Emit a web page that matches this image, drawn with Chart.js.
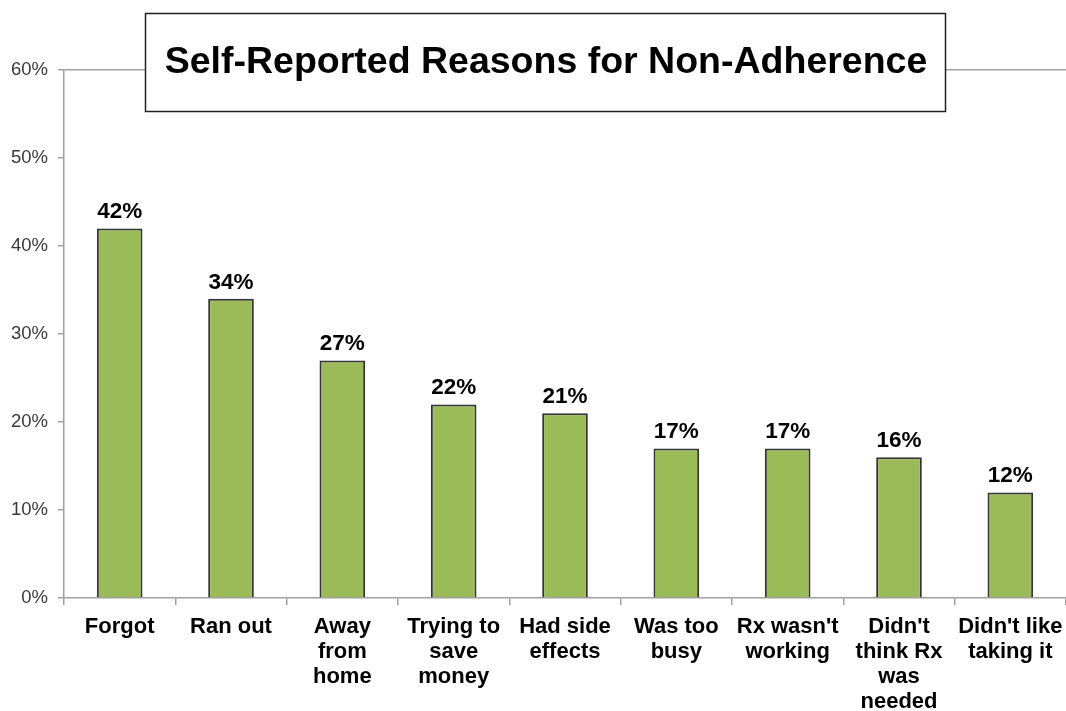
<!DOCTYPE html>
<html lang="en">
<head>
  <meta charset="UTF-8" />
  <script src="https://cdn.jsdelivr.net/npm/chart.js"></script>
  <title>Self-Reported Reasons for Non-Adherence</title>
  <style>
    html, body { margin: 0; padding: 0; background: #fff; }
    .caixa { width: 1066px; height: 711px; position: relative; }
  </style>
</head>
<body>
  <div class="caixa">
    <canvas id="grafico"></canvas>
  </div>

<script>
  const titulo = "Self-Reported Reasons for Non-Adherence";
  const categorias = [
    ["Forgot"],
    ["Ran out"],
    ["Away", "from", "home"],
    ["Trying to", "save", "money"],
    ["Had side", "effects"],
    ["Was too", "busy"],
    ["Rx wasn't", "working"],
    ["Didn't", "think Rx", "was", "needed"],
    ["Didn't like", "taking it"]
  ];
  const valores = [42, 34, 27, 22, 21, 17, 17, 16, 12];
  const ticksY = [0, 10, 20, 30, 40, 50, 60];

  const cinza = "#a0a0a0";
  const fonte = "'Liberation Sans', Arial, sans-serif";

  // rotulos de valor em cima das barras
  const rotulos = {
    id: "rotulos",
    afterDatasetsDraw(chart) {
      const ctx = chart.ctx;
      const meta = chart.getDatasetMeta(0);
      ctx.save();
      ctx.font = "bold 22.5px " + fonte;
      ctx.fillStyle = "#000";
      ctx.textAlign = "center";
      ctx.textBaseline = "alphabetic";
      meta.data.forEach((barra, i) => {
        ctx.fillText(valores[i] + "%", barra.x, barra.y - 10);
      });
      ctx.restore();
    }
  };

  // caixa do titulo por cima da area do grafico
  const caixaTitulo = {
    id: "caixaTitulo",
    afterDraw(chart) {
      const ctx = chart.ctx;
      ctx.save();
      ctx.fillStyle = "#fff";
      ctx.fillRect(145, 13, 801, 99);
      ctx.strokeStyle = "#222";
      ctx.lineWidth = 1.5;
      ctx.strokeRect(145.5, 13.5, 800, 98);
      ctx.font = "bold 37.5px " + fonte;
      ctx.fillStyle = "#000";
      ctx.textAlign = "center";
      ctx.textBaseline = "middle";
      ctx.fillText(titulo, 546, 63);
      ctx.restore();
    }
  };

  const config = {
    type: "bar",
    data: {
      labels: categorias,
      datasets: [
        {
          data: valores,
          backgroundColor: "#9bbb59",
          borderColor: "#333333",
          borderWidth: 2,
          barPercentage: 0.82,
          categoryPercentage: 0.5
        }
      ]
    },
    options: {
      responsive: true,
      maintainAspectRatio: false,
      animation: false,
      layout: {
        padding: { top: 70, right: 0, bottom: 0, left: 0 }
      },
      scales: {
        x: {
          afterFit: (s) => { s.height = 113; s.paddingLeft = 0; s.paddingRight = 0; },
          border: { color: cinza, width: 1.5 },
          grid: {
            display: true,
            drawOnChartArea: false,
            offset: true,
            tickLength: 7,
            color: cinza,
            lineWidth: 1.5
          },
          ticks: {
            color: "#000",
            padding: 9,
            maxRotation: 0,
            autoSkip: false,
            font: { family: fonte, size: 22, weight: "bold", lineHeight: "25px" }
          }
        },
        y: {
          min: 0,
          max: 60,
          afterFit: (s) => { s.width = 64; },
          afterBuildTicks: (s) => { s.ticks = ticksY.map(v => ({ value: v })); },
          border: { color: cinza, width: 1.5 },
          grid: {
            color: (c) => (c.tick && c.tick.value === 60 ? cinza : "rgba(0,0,0,0)"),
            tickColor: cinza,
            tickLength: 6,
            lineWidth: 1.5
          },
          ticks: {
            color: "#3a3a3a",
            padding: 10,
            font: { family: fonte, size: 18.5 },
            callback: (v) => v + "%"
          }
        }
      },
      plugins: {
        legend: { display: false },
        title: { display: false },
        tooltip: { enabled: false }
      }
    },
    plugins: [rotulos, caixaTitulo]
  };

  new Chart(document.getElementById("grafico").getContext("2d"), config);
</script>
</body>
</html>
